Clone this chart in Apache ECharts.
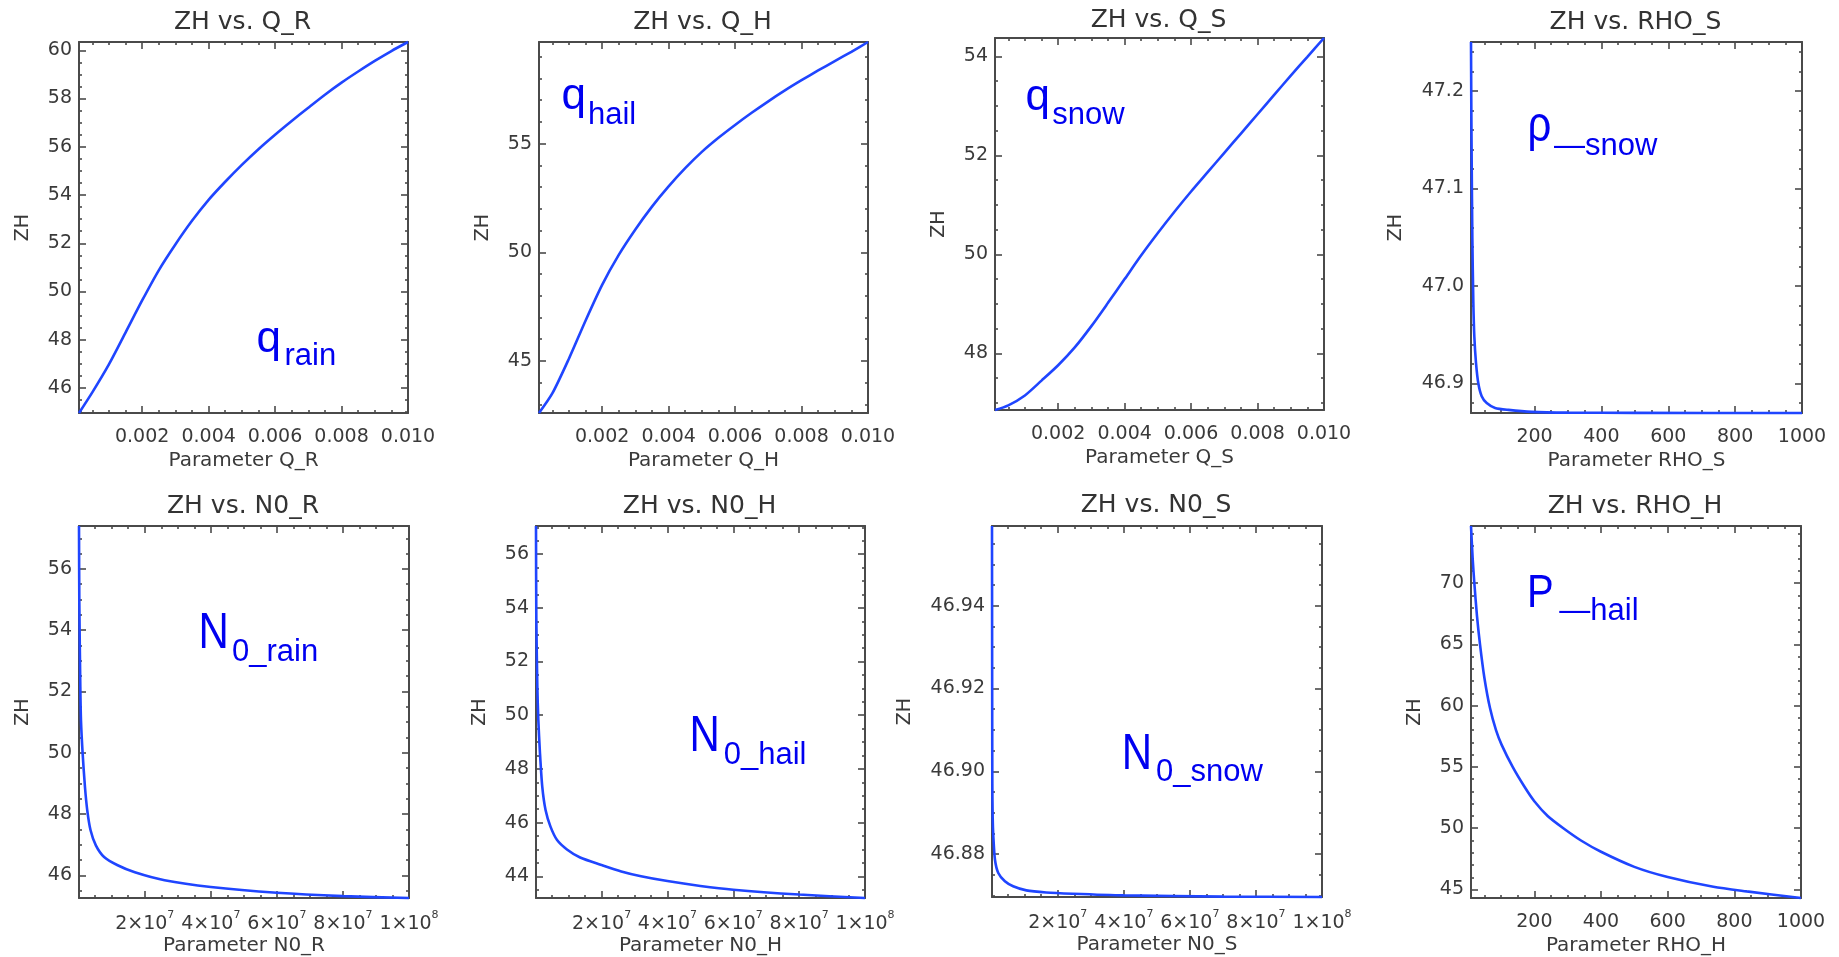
<!DOCTYPE html>
<html>
<head>
<meta charset="utf-8">
<script src="https://cdn.jsdelivr.net/npm/echarts@6/dist/echarts.min.js"></script>
<style>
html,body{margin:0;padding:0;background:#ffffff;}
#chart{width:1839px;height:957px;}
</style>
</head>
<body>
<div id="chart"></div>
<script>
// ---------------- DATA ----------------
// Panel 1: ZH vs. Q_R
const qR_x  = [0.0001, 0.0005, 0.001, 0.0015, 0.002, 0.0025, 0.003, 0.0035, 0.004, 0.0045, 0.005, 0.0055, 0.006, 0.0065, 0.007, 0.0075, 0.008, 0.0085, 0.009, 0.0095, 0.0100];
const qR_zh = [44.964, 45.82, 46.98, 48.3, 49.63, 50.88, 51.95, 52.93, 53.8, 54.55, 55.25, 55.9, 56.5, 57.07, 57.62, 58.16, 58.66, 59.12, 59.56, 59.97, 60.344];
// Panel 2: ZH vs. Q_H
const qH_x  = [0.0001, 0.0005, 0.001, 0.0015, 0.002, 0.0025, 0.003, 0.0035, 0.004, 0.0045, 0.005, 0.0055, 0.006, 0.0065, 0.007, 0.0075, 0.008, 0.0085, 0.009, 0.0095, 0.0100];
const qH_zh = [42.60, 43.5, 45.1, 46.85, 48.5, 49.88, 51.05, 52.1, 53.03, 53.87, 54.62, 55.27, 55.86, 56.42, 56.95, 57.45, 57.92, 58.37, 58.8, 59.23, 59.68];
// Panel 3: ZH vs. Q_S
const qS_x  = [0.0001, 0.0005, 0.001, 0.0015, 0.002, 0.0025, 0.003, 0.0035, 0.004, 0.0045, 0.005, 0.0055, 0.006, 0.0065, 0.007, 0.0075, 0.008, 0.0085, 0.009, 0.0095, 0.0100];
const qS_zh = [46.856, 46.95, 47.15, 47.45, 47.76, 48.12, 48.55, 49.02, 49.5, 49.98, 50.43, 50.86, 51.27, 51.66, 52.05, 52.44, 52.83, 53.22, 53.61, 53.99, 54.37];
// Panel 4: ZH vs. RHO_S
const rhoS_x  = [10, 11, 12, 14, 17, 20, 25, 32, 42, 57, 82, 122, 192, 300, 500, 1000];
const rhoS_zh = [47.2503, 47.18, 47.13, 47.05, 46.983, 46.948, 46.921, 46.900, 46.887, 46.880, 46.875, 46.873, 46.871, 46.8702, 46.8699, 46.8698];
// Panel 5: ZH vs. N0_R
const n0R_x  = [1e5, 2e5, 5e5, 7e5, 1.2e6, 1.9e6, 2.6e6, 3.6e6, 5.2e6, 7.7e6, 1.18e7, 1.7e7, 2.6e7, 4e7, 6e7, 8e7, 1e8];
const n0R_zh = [57.40, 54.9, 52.15, 51.05, 49.98, 48.89, 48.12, 47.47, 46.98, 46.6, 46.33, 46.1, 45.84, 45.62, 45.43, 45.32, 45.26];
// Panel 6: ZH vs. N0_H
const n0H_x  = [1e5, 2e5, 5e5, 8e5, 1.3e6, 2e6, 3e6, 4.5e6, 6.5e6, 9.5e6, 1.35e7, 2e7, 2.6e7, 3.2e7, 4e7, 5e7, 6e7, 8e7, 1e8];
const n0H_zh = [57.05, 53.59, 51.09, 49.84, 48.6, 47.34, 46.47, 45.85, 45.35, 45.0, 44.7, 44.42, 44.18, 44.0, 43.82, 43.64, 43.5, 43.32, 43.19];
// Panel 7: ZH vs. N0_S
const n0S_x  = [1e5, 1.3e5, 1.6e5, 2e5, 3e5, 5e5, 1e6, 2e6, 4e6, 6.5e6, 1.05e7, 1.65e7, 2.45e7, 4e7, 7e7, 1e8];
const n0S_zh = [46.9593, 46.935, 46.915, 46.897, 46.889, 46.8843, 46.8786, 46.8754, 46.8734, 46.8722, 46.8712, 46.8707, 46.8704, 46.8700, 46.8697, 46.8696];
// Panel 8: ZH vs. RHO_H
const rhoH_x  = [10, 15, 20, 28, 37, 50, 67, 85, 102, 135, 170, 200, 240, 287, 340, 400, 500, 600, 737, 837, 1000];
const rhoH_zh = [74.65, 72.0, 70.0, 67.3, 65.0, 62.3, 59.8, 58.0, 56.8, 55.0, 53.4, 52.2, 51.0, 50.0, 49.0, 48.08, 46.85, 46.02, 45.22, 44.85, 44.31];

// Titles / axis names / annotations
const titles = ['ZH vs. Q_R', 'ZH vs. Q_H', 'ZH vs. Q_S', 'ZH vs. RHO_S', 'ZH vs. N0_R', 'ZH vs. N0_H', 'ZH vs. N0_S', 'ZH vs. RHO_H'];
const xNames = ['Parameter Q_R', 'Parameter Q_H', 'Parameter Q_S', 'Parameter RHO_S', 'Parameter N0_R', 'Parameter N0_H', 'Parameter N0_S', 'Parameter RHO_H'];
const yName = 'ZH';
const annoMain = ['q', 'q', 'q', 'ρ', 'N', 'N', 'N', 'P'];
const annoSub  = ['rain', 'hail', 'snow', '—snow', '0_rain', '0_hail', '0_snow', '—hail'];

// Tick labels
const qTicks   = [0.002, 0.004, 0.006, 0.008, 0.010];
const rhoTicks = [200, 400, 600, 800, 1000];
const n0Ticks  = [2e7, 4e7, 6e7, 8e7, 1e8];
const yTicksQR = [46, 48, 50, 52, 54, 56, 58, 60];
const yTicksQH = [45, 50, 55];
const yTicksQS = [48, 50, 52, 54];
const yTicksRS = [46.9, 47.0, 47.1, 47.2];
const yTicksNR = [46, 48, 50, 52, 54, 56];
const yTicksNH = [44, 46, 48, 50, 52, 54, 56];
const yTicksNS = [46.88, 46.90, 46.92, 46.94];
const yTicksRH = [45, 50, 55, 60, 65, 70];

// ---------------- STYLE / LAYOUT ----------------
const FONT = 'DejaVu Sans';
const ANNO_FONT = 'Liberation Sans';
const AXIS_COLOR = '#4a4a4a';
const TEXT_COLOR = '#3a3a3a';
const LINE_COLOR = '#1f45ff';
const ANNO_COLOR = '#0000f0';

const fmtFix = d => v => v.toFixed(d);
const fmtSci = v => {
  const e = Math.floor(Math.log10(v) + 1e-9);
  const m = Math.round(v / Math.pow(10, e));
  return '{b|' + m + '×10}{s|' + e + '}';
};

const panels = [
  {grid:{left:79, top:42, width:329, height:371}, x:qR_x, y:qR_zh, xMin:0.0001, xMax:0.0100, yMin:44.964, yMax:60.344,
   xTicks:qTicks, xMinor:0.0005, xFmt:fmtFix(3), yTicks:yTicksQR, yMinor:0.5, yFmt:fmtFix(0), yGap:46, sci:false,
   titleY:22, anno:{mx:256.5, mb:355, fs:44, sy:1, sx:284.5, sb:367}},
  {grid:{left:539, top:42, width:329, height:371}, x:qH_x, y:qH_zh, xMin:0.0001, xMax:0.0100, yMin:42.60, yMax:59.68,
   xTicks:qTicks, xMinor:0.0005, xFmt:fmtFix(3), yTicks:yTicksQH, yMinor:1, yFmt:fmtFix(0), yGap:46, sci:false,
   titleY:22, anno:{mx:561.5, mb:111.7, fs:44, sy:1, sx:588, sb:126}},
  {grid:{left:995, top:38, width:329, height:372}, x:qS_x, y:qS_zh, xMin:0.0001, xMax:0.0100, yMin:46.856, yMax:54.37,
   xTicks:qTicks, xMinor:0.0005, xFmt:fmtFix(3), yTicks:yTicksQS, yMinor:0.5, yFmt:fmtFix(0), yGap:46, sci:false,
   titleY:20, anno:{mx:1025.5, mb:113.3, fs:44, sy:1, sx:1052.3, sb:126}},
  {grid:{left:1471, top:42, width:331, height:371}, x:rhoS_x, y:rhoS_zh, xMin:10, xMax:1000, yMin:46.8698, yMax:47.2503,
   xTicks:rhoTicks, xMinor:50, xFmt:fmtFix(0), yTicks:yTicksRS, yMinor:0.02, yFmt:fmtFix(1), yGap:65, sci:false,
   titleY:22, anno:{mx:1527.5, mb:144.5, fs:42, sy:1.17, sx:1554, sb:157.3}},
  {grid:{left:79, top:526, width:330, height:372}, x:n0R_x, y:n0R_zh, xMin:1e5, xMax:1e8, yMin:45.26, yMax:57.40,
   xTicks:n0Ticks, xMinor:5e6, xFmt:fmtSci, yTicks:yTicksNR, yMinor:0.5, yFmt:fmtFix(0), yGap:46, sci:true,
   titleY:506.5, anno:{mx:198.5, mb:651.7, fs:42, sy:1.17, sx:232, sb:662.7}},
  {grid:{left:536, top:526, width:329, height:372}, x:n0H_x, y:n0H_zh, xMin:1e5, xMax:1e8, yMin:43.19, yMax:57.05,
   xTicks:n0Ticks, xMinor:5e6, xFmt:fmtSci, yTicks:yTicksNH, yMinor:0.5, yFmt:fmtFix(0), yGap:46, sci:true,
   titleY:506.5, anno:{mx:689.5, mb:754, fs:42, sy:1.17, sx:723.7, sb:765.7}},
  {grid:{left:992, top:526, width:330, height:371}, x:n0S_x, y:n0S_zh, xMin:1e5, xMax:1e8, yMin:46.8696, yMax:46.9593,
   xTicks:n0Ticks, xMinor:5e6, xFmt:fmtSci, yTicks:yTicksNS, yMinor:0.005, yFmt:fmtFix(2), yGap:77, sci:true,
   titleY:505, anno:{mx:1121.8, mb:772.3, fs:42, sy:1.17, sx:1156, sb:783.3}},
  {grid:{left:1471, top:526, width:330, height:372}, x:rhoH_x, y:rhoH_zh, xMin:10, xMax:1000, yMin:44.31, yMax:74.65,
   xTicks:rhoTicks, xMinor:50, xFmt:fmtFix(0), yTicks:yTicksRH, yMinor:1, yFmt:fmtFix(0), yGap:46, sci:false,
   titleY:506.5, anno:{mx:1527, mb:610, fs:40, sy:1.16, sx:1559.3, sb:621.7}}
];

function minorTicks(min, max, step, major) {
  const out = [];
  const k0 = Math.ceil(min / step - 1e-6), k1 = Math.floor(max / step + 1e-6);
  for (let k = k0; k <= k1; k++) {
    const v = +(k * step).toPrecision(12);
    if (!major.some(m => Math.abs(m - v) < step * 1e-3)) out.push(v);
  }
  return out;
}

const lineOn = {show: true, lineStyle: {color: AXIS_COLOR, width: 2}};
const tickStyle = {color: AXIS_COLOR, width: 1.6};
const labelBase = {color: TEXT_COLOR, fontFamily: FONT, fontSize: 19};

const grids = [], xAxes = [], yAxes = [], series = [], graphics = [];

panels.forEach((p, gi) => {
  grids.push(Object.assign({outerBoundsMode: 'none', containLabel: false}, p.grid));
  const xMinorVals = minorTicks(p.xMin, p.xMax, p.xMinor, p.xTicks);
  const yMinorVals = minorTicks(p.yMin, p.yMax, p.yMinor, p.yTicks);
  const xb = {type: 'value', gridIndex: gi, min: p.xMin, max: p.xMax, splitLine: {show: false}, axisPointer: {show: false}};
  const yb = {type: 'value', gridIndex: gi, min: p.yMin, max: p.yMax, splitLine: {show: false}, axisPointer: {show: false}};
  const xMainIdx = xAxes.length, yMainIdx = yAxes.length;

  const xLabel = Object.assign({}, labelBase, {show: true, customValues: p.xTicks, formatter: p.xFmt, margin: p.sci ? 12 : 15});
  if (p.sci) {
    xLabel.rich = {
      b: {fontFamily: FONT, fontSize: 19, color: TEXT_COLOR, lineHeight: 24, verticalAlign: 'bottom'},
      s: {fontFamily: FONT, fontSize: 11, color: TEXT_COLOR, lineHeight: 10, verticalAlign: 'top'}
    };
  }
  // bottom major (labels + name)
  xAxes.push(Object.assign({}, xb, {
    position: 'bottom', axisLine: lineOn,
    axisTick: {show: true, inside: true, length: 7, customValues: p.xTicks, lineStyle: tickStyle},
    axisLabel: xLabel,
    name: xNames[gi], nameLocation: 'middle', nameGap: 38,
    nameTextStyle: {color: TEXT_COLOR, fontFamily: FONT, fontSize: 20}
  }));
  // bottom minor
  xAxes.push(Object.assign({}, xb, {position: 'bottom', axisLine: {show: false},
    axisTick: {show: true, inside: true, length: 3, customValues: xMinorVals, lineStyle: tickStyle}, axisLabel: {show: false}}));
  // top major / minor
  xAxes.push(Object.assign({}, xb, {position: 'top', axisLine: lineOn,
    axisTick: {show: true, inside: true, length: 7, customValues: p.xTicks, lineStyle: tickStyle}, axisLabel: {show: false}}));
  xAxes.push(Object.assign({}, xb, {position: 'top', axisLine: {show: false},
    axisTick: {show: true, inside: true, length: 3, customValues: xMinorVals, lineStyle: tickStyle}, axisLabel: {show: false}}));

  // left major (labels + name)
  yAxes.push(Object.assign({}, yb, {
    position: 'left', axisLine: lineOn,
    axisTick: {show: true, inside: true, length: 7, customValues: p.yTicks, lineStyle: tickStyle},
    axisLabel: Object.assign({}, labelBase, {show: true, customValues: p.yTicks, formatter: p.yFmt, margin: 7}),
    name: yName, nameLocation: 'middle', nameGap: p.yGap,
    nameTextStyle: {color: TEXT_COLOR, fontFamily: FONT, fontSize: 19}
  }));
  yAxes.push(Object.assign({}, yb, {position: 'left', axisLine: {show: false},
    axisTick: {show: true, inside: true, length: 3, customValues: yMinorVals, lineStyle: tickStyle}, axisLabel: {show: false}}));
  yAxes.push(Object.assign({}, yb, {position: 'right', axisLine: lineOn,
    axisTick: {show: true, inside: true, length: 7, customValues: p.yTicks, lineStyle: tickStyle}, axisLabel: {show: false}}));
  yAxes.push(Object.assign({}, yb, {position: 'right', axisLine: {show: false},
    axisTick: {show: true, inside: true, length: 3, customValues: yMinorVals, lineStyle: tickStyle}, axisLabel: {show: false}}));

  series.push({
    type: 'line', xAxisIndex: xMainIdx, yAxisIndex: yMainIdx,
    data: p.x.map((v, i) => [v, p.y[i]]),
    showSymbol: false, smooth: 0.25, clip: false,
    lineStyle: {color: LINE_COLOR, width: 2.6}, z: 5, silent: true
  });

  // title
  graphics.push({type: 'text', x: p.grid.left + p.grid.width / 2 - 1, y: p.titleY, silent: true,
    style: {text: titles[gi], fill: '#333333', fontFamily: FONT, fontSize: 25, align: 'center', verticalAlign: 'middle'}});
  // annotation (main letter + subscript)
  const a = p.anno;
  graphics.push({type: 'text', x: a.mx, y: a.mb - 0.346 * a.fs * a.sy, scaleY: a.sy, silent: true,
    style: {text: annoMain[gi], fill: ANNO_COLOR, fontFamily: ANNO_FONT, fontSize: a.fs, align: 'left', verticalAlign: 'middle'}});
  graphics.push({type: 'text', x: a.sx, y: a.sb - 0.346 * 31, silent: true,
    style: {text: annoSub[gi], fill: ANNO_COLOR, fontFamily: ANNO_FONT, fontSize: 31, align: 'left', verticalAlign: 'middle'}});
});

const chart = echarts.init(document.getElementById('chart'), null, {renderer: 'canvas'});
chart.setOption({
  animation: false,
  backgroundColor: '#ffffff',
  textStyle: {fontFamily: FONT},
  grid: grids,
  xAxis: xAxes,
  yAxis: yAxes,
  series: series,
  graphic: {elements: graphics}
});
</script>
</body>
</html>
